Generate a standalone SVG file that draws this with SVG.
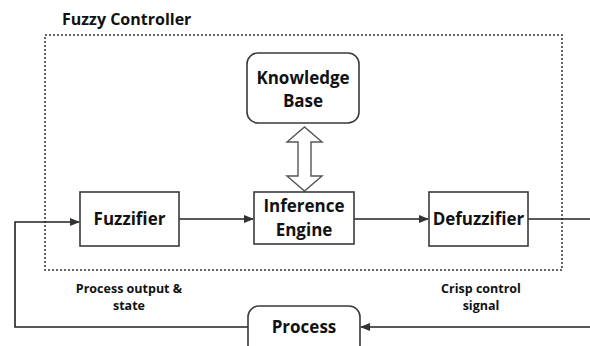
<svg xmlns="http://www.w3.org/2000/svg" width="590" height="346" viewBox="0 0 590 346">
<style>
.t{font-family:"Open Sans","Liberation Sans",sans-serif;font-weight:bold;fill:#111;text-anchor:middle}
.b{fill:#fff;stroke:#3a3a3a;stroke-width:1.6}
.l{fill:none;stroke:#222;stroke-width:1.6}
</style>
<defs>
<marker id="ah" markerWidth="10" markerHeight="8" refX="9" refY="4" orient="auto" markerUnits="userSpaceOnUse">
<path d="M0,0 L10,4 L0,8 Z" fill="#333"/>
</marker>
</defs>
<rect width="590" height="346" fill="#fff"/>
<text class="t" x="62" y="25" style="text-anchor:start;font-size:16px">Fuzzy Controller</text>
<rect x="45" y="35" width="517" height="235" fill="none" stroke="#333" stroke-width="1.5" stroke-dasharray="2,2"/>
<g id="connectors">
<path d="M298,142 L287,142 L304.5,127 L322,142 L311,142 L311,176 L322,176 L304.5,191 L287,176 L298,176 Z" fill="#fff" stroke="#555" stroke-width="1.4"/>
<path class="l" d="M179,219 L253,219" marker-end="url(#ah)"/>
<path class="l" d="M354,219 L428,219" marker-end="url(#ah)"/>
<path class="l" d="M528,219 L590,219"/>
<path class="l" d="M248,327 L15,327 L15,222 L79,222" marker-end="url(#ah)"/>
<path class="l" d="M590,327 L361,327" marker-end="url(#ah)"/>
</g>
<g id="knowledge">
<rect class="b" x="247" y="53" width="112" height="70" rx="11"/>
<text class="t" x="303" y="84" style="font-size:17px">Knowledge</text>
<text class="t" x="303" y="107" style="font-size:17px">Base</text>
</g>
<g id="fuzzifier">
<rect class="b" x="80" y="192" width="99" height="54"/>
<text class="t" x="129.5" y="225" style="font-size:17px">Fuzzifier</text>
</g>
<g id="inference">
<rect class="b" x="254" y="192" width="100" height="52"/>
<text class="t" x="304" y="212" style="font-size:17px">Inference</text>
<text class="t" x="304" y="236" style="font-size:17px">Engine</text>
</g>
<g id="defuzzifier">
<rect class="b" x="429" y="192" width="99" height="54"/>
<text class="t" x="478.5" y="225" style="font-size:17px">Defuzzifier</text>
</g>
<g id="process">
<rect class="b" x="248" y="306" width="112" height="52" rx="11"/>
<text class="t" x="304" y="333" style="font-size:17px">Process</text>
</g>
<text class="t" x="129" y="293" style="font-size:12.5px">Process output &amp;</text>
<text class="t" x="129" y="310" style="font-size:12.5px">state</text>
<text class="t" x="481" y="293" style="font-size:12.5px">Crisp control</text>
<text class="t" x="481" y="310" style="font-size:12.5px">signal</text>
</svg>
